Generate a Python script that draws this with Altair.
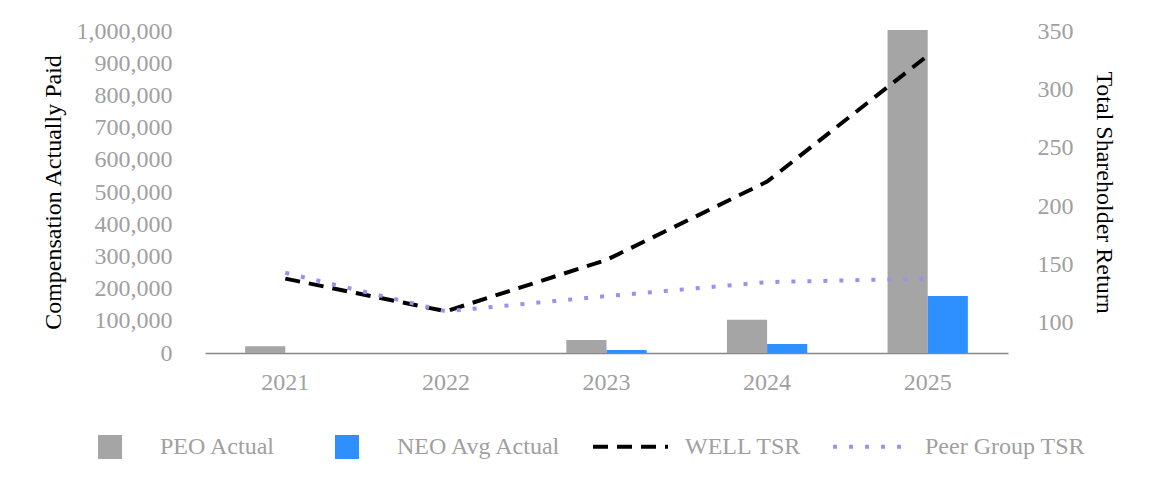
import altair as alt
import pandas as pd

years = ["2021", "2022", "2023", "2024", "2025"]
peo_actual = [21000, 0, 40000, 103000, 1003000]
neo_avg_actual = [0, 0, 9000, 28000, 177000]
well_tsr = [138, 110, 154, 221, 329]
peer_tsr = [143, 110, 123, 135, 138]

bar_series = ["PEO Actual", "NEO Avg Actual"]
line_series = ["WELL TSR", "Peer Group TSR"]
left_ticks = [0, 100000, 200000, 300000, 400000, 500000, 600000, 700000, 800000, 900000, 1000000]
right_ticks = [100, 150, 200, 250, 300, 350]

bars_df = pd.DataFrame(
    [{"year": y, "series": "PEO Actual", "value": v} for y, v in zip(years, peo_actual)]
    + [{"year": y, "series": "NEO Avg Actual", "value": v} for y, v in zip(years, neo_avg_actual)]
)
lines_df = pd.DataFrame(
    [{"year": y, "series": "WELL TSR", "tsr": v} for y, v in zip(years, well_tsr)]
    + [{"year": y, "series": "Peer Group TSR", "tsr": v} for y, v in zip(years, peer_tsr)]
)

FONT = "Liberation Serif"
GRAY = "#a0a0a0"
FS = 24

x_enc = alt.X(
    "year:N",
    sort=years,
    scale=alt.Scale(paddingInner=0.5, paddingOuter=0.25),
    axis=alt.Axis(
        title=None, labelAngle=0, ticks=False, grid=False,
        domainColor="#888888", domainWidth=1.5,
        labelColor=GRAY, labelFontSize=FS, labelFont=FONT, labelPadding=17,
    ),
)

bars = alt.Chart(bars_df).mark_bar().encode(
    x=x_enc,
    xOffset=alt.XOffset("series:N", sort=bar_series, scale=alt.Scale(paddingInner=0, paddingOuter=0)),
    y=alt.Y(
        "value:Q",
        scale=alt.Scale(domain=[0, 1000000], nice=False),
        axis=alt.Axis(
            title="Compensation Actually Paid", values=left_ticks, format=",d",
            domain=False, ticks=False, grid=False,
            labelColor=GRAY, labelFontSize=FS, labelFont=FONT, labelPadding=33,
            titleColor="black", titleFontSize=FS, titleFont=FONT, titleFontWeight="normal",
            titlePadding=11,
        ),
    ),
    color=alt.Color(
        "series:N",
        sort=bar_series,
        scale=alt.Scale(domain=bar_series, range=["#a5a5a5", "#2e8fff"]),
        legend=alt.Legend(
            title=None, orient="none", direction="horizontal", legendX=-107, legendY=404,
            symbolType="square", symbolSize=576, symbolStrokeWidth=0,
            labelFontSize=FS, labelFont=FONT, labelColor=GRAY, labelOffset=38,
            labelLimit=400, columnPadding=59, padding=0,
        ),
    ),
)

line_legend = alt.Legend(
    title=None, orient="none", direction="horizontal", legendX=386, legendY=376,
    symbolType="stroke", symbolSize=5625, symbolStrokeWidth=4,
    labelFontSize=FS, labelFont=FONT, labelColor=GRAY, labelOffset=15,
    labelLimit=400, columnPadding=23, padding=0,
)

lines = alt.Chart(lines_df).mark_line(strokeWidth=4, interpolate="linear").encode(
    x=x_enc,
    y=alt.Y(
        "tsr:Q",
        scale=alt.Scale(domain=[74.3, 350], nice=False, zero=False),
        axis=alt.Axis(
            title="Total Shareholder Return", values=right_ticks, orient="right",
            domain=False, ticks=False, grid=False,
            labelColor=GRAY, labelFontSize=FS, labelFont=FONT, labelPadding=29,
            titleColor="black", titleFontSize=FS, titleFont=FONT, titleFontWeight="normal",
            titlePadding=18,
        ),
    ),
    color=alt.Color(
        "series:N",
        sort=line_series,
        scale=alt.Scale(domain=line_series, range=["#000000", "#9d8ff0"]),
        legend=line_legend,
    ),
    strokeDash=alt.StrokeDash(
        "series:N",
        sort=line_series,
        scale=alt.Scale(domain=line_series, range=[[15, 9], [4, 12]]),
        legend=line_legend,
    ),
)

chart = (
    alt.layer(bars, lines)
    .resolve_scale(y="independent", color="independent", strokeDash="independent")
    .properties(
        width=803, height=322,
        autosize=alt.AutoSizeParams(type="none"),
        padding={"left": 197, "top": 23, "right": 136, "bottom": 140},
        background="white",
    )
    .configure_view(stroke=None)
)

chart.save("out.html", embed_options={"renderer": "svg", "actions": False})
